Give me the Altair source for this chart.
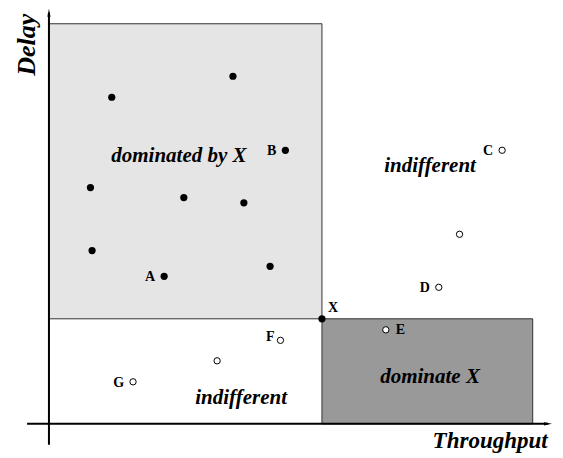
import altair as alt
import pandas as pd

# Dominated points (filled) — throughput, delay, label
dom_x = [1.15, 3.37, 4.33, 0.76, 2.47, 3.57, 0.79, 4.05, 2.11]
dom_y = [6.22, 6.62, 5.21, 4.50, 4.31, 4.21, 3.30, 3.00, 2.81]
dom_lab = ["", "", "B", "", "", "", "", "", "A"]

# Other points (open)
oth_x = [8.30, 7.52, 7.14, 6.17, 4.24, 3.08, 1.54]
oth_y = [5.21, 3.61, 2.60, 1.79, 1.59, 1.20, 0.80]
oth_lab = ["C", "", "D", "E", "F", "", "G"]

# Reference point X
ref_x = [5.0]
ref_y = [2.0]
ref_lab = ["X"]

# Regions
reg_x1 = [0.0, 5.0]
reg_x2 = [5.0, 8.86]
reg_y1 = [2.0, 0.0]
reg_y2 = [7.62, 2.0]
reg_name = ["dominated", "dominate"]
reg_color = ["#e5e5e5", "#999999"]

# Region texts
rt_text = ["dominated by X", "indifferent", "dominate X", "indifferent"]
rt_x = [2.38, 6.98, 6.98, 3.52]
rt_y = [5.10, 4.91, 0.90, 0.50]

# Axes extents
xaxis_min, xaxis_max = -0.40, 9.14
yaxis_min, yaxis_max = -0.40, 7.83

XS = alt.Scale(domain=[-0.75, 9.25], nice=False, zero=False)
YS = alt.Scale(domain=[-0.613, 7.92], nice=False, zero=False)

def X(f):
    return alt.X(f, type="quantitative", scale=XS, axis=None)

def Y(f):
    return alt.Y(f, type="quantitative", scale=YS, axis=None)

reg_df = pd.DataFrame({"x1": reg_x1, "x2": reg_x2, "y1": reg_y1, "y2": reg_y2,
                       "name": reg_name, "color": reg_color})
dom_df = pd.DataFrame({"x": dom_x, "y": dom_y, "lab": dom_lab})
oth_df = pd.DataFrame({"x": oth_x, "y": oth_y, "lab": oth_lab})
ref_df = pd.DataFrame({"x": ref_x, "y": ref_y, "lab": ref_lab})
lab_df = pd.concat([dom_df, oth_df, ref_df], ignore_index=True)
lab_df = lab_df[lab_df["lab"] != ""]
rt_df = pd.DataFrame({"t": rt_text, "x": rt_x, "y": rt_y})
axis_df = pd.DataFrame({"x0": [xaxis_min], "x1": [xaxis_max],
                        "y0": [yaxis_min], "y1": [yaxis_max]})

FONT = "Liberation Serif"

rects = alt.Chart(reg_df).mark_rect(stroke="#333333", strokeWidth=1).encode(
    x=X("x1"), x2="x2", y=Y("y1"), y2="y2",
    fill=alt.Fill("color:N", scale=None),
)

xaxis = alt.Chart(axis_df).mark_rule(color="black", strokeWidth=2).encode(
    x=X("x0"), x2="x1", y=alt.Y("z:Q", scale=YS, axis=None)
).transform_calculate(z="0")
yaxis = alt.Chart(axis_df).mark_rule(color="black", strokeWidth=2).encode(
    y=Y("y0"), y2="y1", x=alt.X("z:Q", scale=XS, axis=None)
).transform_calculate(z="0")

arrow_up = alt.Chart(axis_df).mark_point(
    shape="M0,-1L0.4,1L-0.4,1Z", filled=True, color="black", size=64, opacity=1
).encode(x=alt.X("z:Q", scale=XS, axis=None), y=Y("y1")).transform_calculate(z="0")
arrow_right = alt.Chart(axis_df).mark_point(
    shape="M1,0L-1,0.4L-1,-0.4Z", filled=True, color="black", size=64, opacity=1
).encode(x=X("x1"), y=alt.Y("z:Q", scale=YS, axis=None)).transform_calculate(z="0")

dom_pts = alt.Chart(dom_df).mark_circle(color="black", size=52, opacity=1).encode(
    x=X("x"), y=Y("y"))
oth_pts = alt.Chart(oth_df).mark_point(
    shape="circle", fill="white", filled=False, stroke="black", strokeWidth=1,
    size=40, opacity=1
).encode(x=X("x"), y=Y("y"))
ref_pt = alt.Chart(ref_df).mark_circle(color="black", size=52, opacity=1).encode(
    x=X("x"), y=Y("y"))

def labels(names, **kw):
    return alt.Chart(lab_df).transform_filter(
        alt.FieldOneOfPredicate(field="lab", oneOf=names)
    ).mark_text(font=FONT, fontWeight="bold", fontSize=14, baseline="middle",
                color="black", **kw).encode(x=X("x"), y=Y("y"), text="lab:N")

lab_left = labels(["A", "B", "C", "D", "G"], align="right", dx=-9, dy=1)
lab_f = labels(["F"], align="right", dx=-6, dy=-3)
lab_e = labels(["E"], align="left", dx=10, dy=0)
lab_x = labels(["X"], align="left", dx=6, dy=-11)

region_text = alt.Chart(rt_df).mark_text(
    font=FONT, fontWeight="bold", fontStyle="italic", fontSize=21,
    baseline="middle", align="center", color="black"
).encode(x=X("x"), y=Y("y"), text="t:N")

title_df = pd.DataFrame({"t": ["Delay", "Throughput"], "x": [-0.40, 8.08],
                         "y": [7.22, -0.32]})
delay_t = alt.Chart(title_df).transform_filter(alt.datum.t == "Delay").mark_text(
    font=FONT, fontWeight="bold", fontStyle="italic", fontSize=26,
    baseline="middle", align="center", angle=270, color="black"
).encode(x=X("x"), y=Y("y"), text="t:N")
thr_t = alt.Chart(title_df).transform_filter(alt.datum.t == "Throughput").mark_text(
    font=FONT, fontWeight="bold", fontStyle="italic", fontSize=23,
    baseline="middle", align="center", color="black"
).encode(x=X("x"), y=Y("y"), text="t:N")

chart = alt.layer(
    rects, xaxis, yaxis, arrow_up, arrow_right, dom_pts, oth_pts, ref_pt,
    lab_left, lab_f, lab_e, lab_x, region_text, delay_t, thr_t
).properties(
    width=546, height=448, padding=0,
    autosize=alt.AutoSizeParams(type="none"),
).configure_view(stroke=None)

chart.save("out.html", embed_options={"renderer": "svg", "actions": False})
